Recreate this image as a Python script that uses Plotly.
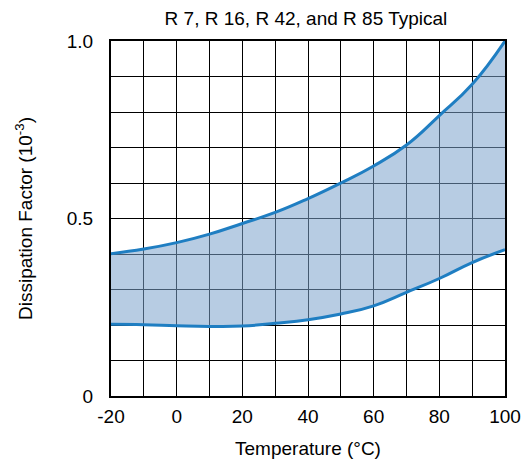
import plotly.graph_objects as go

temps = [-20, -10, 0, 10, 20, 30, 40, 50, 60, 70, 80, 90, 100]
upper = [0.401, 0.414, 0.432, 0.456, 0.486, 0.517, 0.556, 0.600, 0.648, 0.707, 0.790, 0.878, 1.000]
lower = [0.202, 0.201, 0.198, 0.196, 0.197, 0.205, 0.215, 0.231, 0.254, 0.292, 0.331, 0.376, 0.412]

x_ticks = [-20, 0, 20, 40, 60, 80, 100]
y_ticks = [0, 0.5, 1.0]
y_tick_labels = ["0", "0.5", "1.0"]

line_color = "#1F7EC2"
fill_color = "rgba(124,162,204,0.55)"

fig = go.Figure()
fig.add_trace(go.Scatter(x=temps, y=lower, mode="lines",
                         line=dict(color=line_color, width=3, shape="spline", smoothing=1.3),
                         showlegend=False, hoverinfo="skip"))
fig.add_trace(go.Scatter(x=temps, y=upper, mode="lines", fill="tonexty", fillcolor=fill_color,
                         line=dict(color=line_color, width=3, shape="spline", smoothing=1.3),
                         showlegend=False, hoverinfo="skip"))

font = "Liberation Sans, Arial, sans-serif"

fig.update_layout(
    width=526, height=462,
    margin=dict(l=111, r=21, t=41, b=66),
    paper_bgcolor="white", plot_bgcolor="white",
    font=dict(family=font, size=19, color="black"),
    title=dict(text="R 7, R 16, R 42, and R 85 Typical", x=0.5817, xanchor="center",
               xref="container", yref="container",
               y=0.974, yanchor="top", font=dict(family=font, size=19, color="black")),
    xaxis=dict(range=[-20, 100], tickvals=list(range(-20, 101, 10)),
               ticktext=[str(v) if v in x_ticks else "" for v in range(-20, 101, 10)],
               showgrid=True, gridcolor="black", gridwidth=1,
               showline=True, linecolor="black", linewidth=2, mirror=True,
               ticks="", ticklen=0, zeroline=False, ticklabelstandoff=2, automargin=False,
               title=dict(text="Temperature (°C)", standoff=16, font=dict(size=19))),
    yaxis=dict(range=[0, 1.0], tickvals=[i / 10 for i in range(11)],
               ticktext=[y_tick_labels[y_ticks.index(round(i / 10, 1))] if round(i / 10, 1) in y_ticks else "" for i in range(11)],
               showgrid=True, gridcolor="black", gridwidth=1,
               showline=True, linecolor="black", linewidth=2, mirror=True,
               ticks="", ticklen=0, zeroline=False, ticklabelstandoff=12, automargin=False,
               title=dict(text="Dissipation Factor (10<sup>-3</sup>)", standoff=29, font=dict(size=19))),
)

# remove the default 8px page margin so the 526x462 figure fills the window exactly
fig.write_html("out.html", config={"displayModeBar": False, "staticPlot": True},
               post_script="document.body.style.margin='0';document.body.style.overflow='hidden';")
